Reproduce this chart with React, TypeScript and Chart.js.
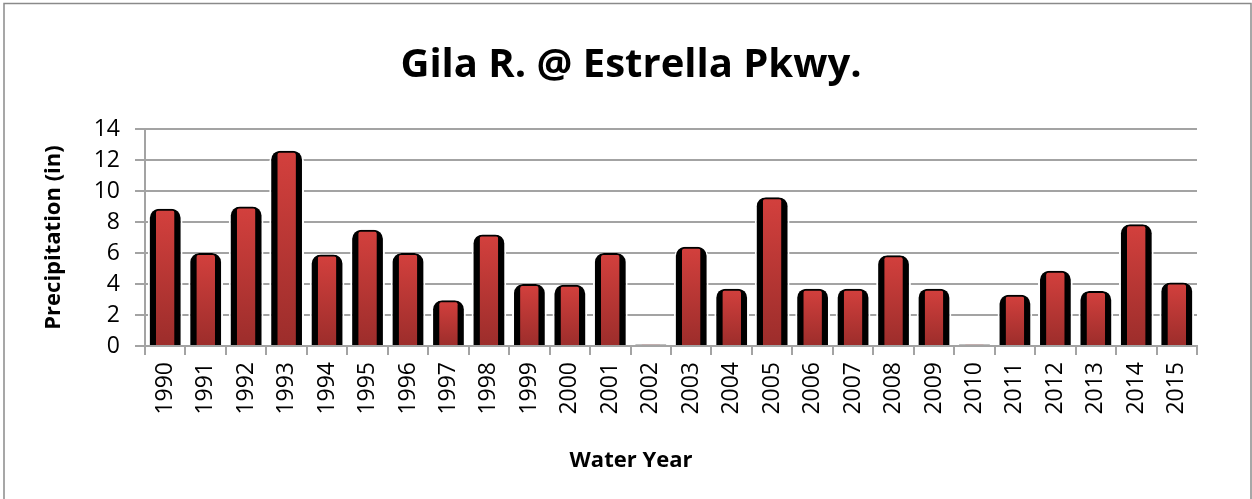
import { useEffect, useRef } from 'react';
import { Chart, registerables } from 'chart.js';

Chart.register(...registerables);

const years = ['1990', '1991', '1992', '1993', '1994', '1995', '1996', '1997', '1998', '1999', '2000', '2001', '2002', '2003', '2004', '2005', '2006', '2007', '2008', '2009', '2010', '2011', '2012', '2013', '2014', '2015'];
const precipitation = [8.85, 6.0, 9.0, 12.6, 5.9, 7.5, 6.0, 2.95, 7.2, 4.0, 3.95, 6.0, 0.1, 6.4, 3.7, 9.6, 3.7, 3.7, 5.85, 3.7, 0.1, 3.3, 4.85, 3.55, 7.85, 4.1];
const yMin = 0;
const yMax = 14;
const yStep = 2;

const titleText = 'Gila R. @ Estrella Pkwy.';
const xTitle = 'Water Year';
const yTitle = 'Precipitation (in)';

const FONT = "'Open Sans', sans-serif";
const GRID = '#a3a3a3';

const frame = {
  id: 'frame',
  beforeDraw(chart: any) {
    const c = chart.ctx;
    c.save();
    c.fillStyle = '#fff';
    c.fillRect(0, 0, chart.width, chart.height);
    c.strokeStyle = '#8a8a8a';
    c.lineWidth = 1.5;
    c.beginPath();
    c.moveTo(4, chart.height + 2);
    c.lineTo(4, 3.5);
    c.lineTo(1251, 3.5);
    c.lineTo(1251, chart.height + 2);
    c.stroke();
    c.restore();
  },
};

function redGradient(context: any) {
  const chart = context.chart;
  const y = chart.scales?.y;
  if (!y || context.type !== 'data') return '#c0392b';
  const top = y.getPixelForValue(context.raw);
  const bottom = y.getPixelForValue(0);
  if (!isFinite(top) || !isFinite(bottom) || bottom - top < 1) return '#b0302e';
  const g = chart.ctx.createLinearGradient(0, top, 0, bottom);
  g.addColorStop(0, '#d3403d');
  g.addColorStop(1, '#9c2d2b');
  return g;
}

export default function App() {
  const ref = useRef<HTMLCanvasElement>(null);

  useEffect(() => {
    if (!ref.current) return;
    const chart = new Chart(ref.current, {
      type: 'bar',
      data: {
        labels: years,
        datasets: [
          {
            label: 'face',
            data: precipitation,
            backgroundColor: redGradient,
            borderColor: 'rgba(0,0,0,0)',
            borderWidth: { top: 2, left: 0, right: 0, bottom: 0 },
            borderRadius: { topLeft: 4, topRight: 4, bottomLeft: 0, bottomRight: 0 },
            borderSkipped: 'start',
            barPercentage: 0.46,
            categoryPercentage: 1,
            grouped: false,
            order: 1,
          } as any,
          {
            label: 'shadow',
            data: precipitation,
            backgroundColor: '#000',
            borderColor: '#fff',
            borderWidth: { top: 0, left: 2, right: 2, bottom: 0 },
            borderRadius: { topLeft: 11, topRight: 11, bottomLeft: 0, bottomRight: 0 },
            borderSkipped: 'start',
            barPercentage: 0.858,
            categoryPercentage: 1,
            grouped: false,
            order: 2,
          } as any,
        ],
      },
      options: {
        animation: false,
        responsive: false,
        maintainAspectRatio: false,
        devicePixelRatio: 1,
        layout: { padding: { left: 10, right: 0, top: 0, bottom: 0 } },
        plugins: {
          legend: { display: false },
          tooltip: { enabled: false },
          title: {
            display: true,
            text: titleText,
            color: '#000',
            font: { family: FONT, size: 40, weight: 'bold' },
            padding: { top: 42, bottom: 39 },
          },
          subtitle: {
            display: true,
            position: 'bottom',
            text: xTitle,
            color: '#000',
            font: { family: FONT, size: 22, weight: 'bold' },
            padding: { top: 0, bottom: 24.8 },
          },
        },
        scales: {
          x: {
            type: 'category',
            offset: true,
            grid: {
              display: true,
              drawOnChartArea: false,
              drawTicks: true,
              tickLength: 9,
              offset: true,
              color: GRID,
              lineWidth: 2,
            },
            border: { display: true, color: GRID, width: 2 },
            ticks: {
              autoSkip: false,
              maxRotation: 90,
              minRotation: 90,
              padding: 7,
              color: '#000',
              font: { family: FONT, size: 23 },
            },
            afterFit: (s: any) => {
              s.height = 447.8 - 346;
            },
          },
          y: {
            type: 'linear',
            min: yMin,
            max: yMax,
            ticks: {
              stepSize: yStep,
              padding: 15,
              color: '#000',
              font: { family: FONT, size: 23 },
            },
            grid: { color: GRID, lineWidth: 2, tickLength: 10, drawTicks: true },
            border: { display: true, color: GRID, width: 2 },
            title: {
              display: true,
              text: yTitle,
              color: '#000',
              font: { family: FONT, size: 22, weight: 'bold' },
              padding: { top: 30.8, bottom: 0 },
            },
            afterFit: (s: any) => {
              s.width = 135;
            },
          },
          y2: {
            type: 'linear',
            position: 'right',
            display: true,
            grid: { display: false, drawTicks: false },
            ticks: { display: false },
            border: { display: false },
            afterFit: (s: any) => {
              s.width = 55;
            },
          },
        },
      } as any,
      plugins: [frame],
    });
    return () => chart.destroy();
  }, []);

  return (
    <div style={{ position: 'absolute', left: 0, top: 0, width: 1252, height: 499, overflow: 'hidden' }}>
      <canvas ref={ref} width={1252} height={499} style={{ display: 'block', width: 1252, height: 499 }} />
    </div>
  );
}
